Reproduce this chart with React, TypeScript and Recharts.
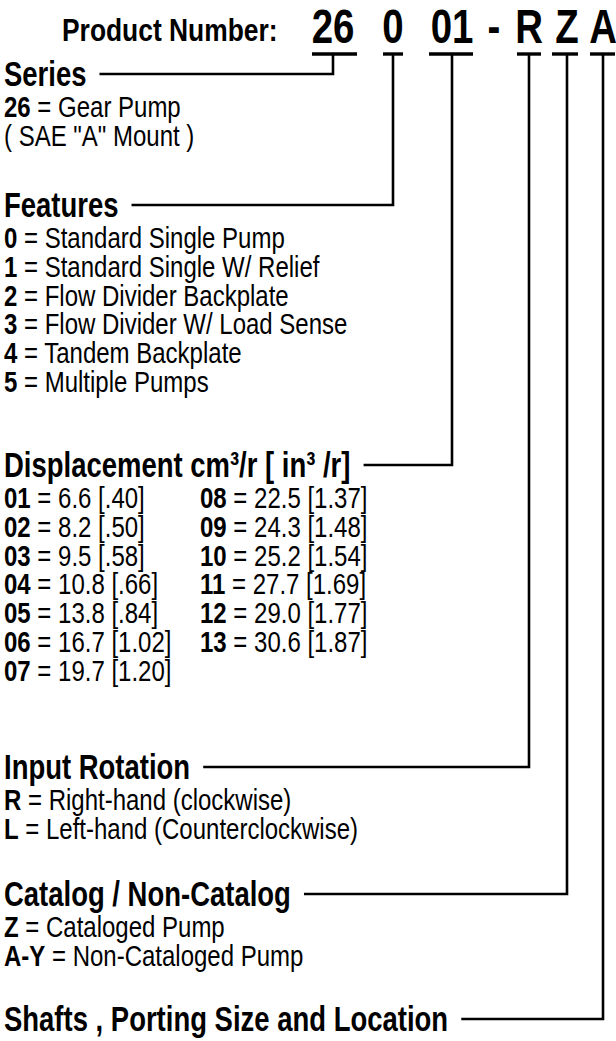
import React from 'react';
import { ComposedChart, XAxis, YAxis, Scatter, Line } from 'recharts';

// ---------------- data ----------------
const productLabel = 'Product Number:';
const codeParts = ['26', '0', '01', '-', 'R', 'Z', 'A'];
const sectionTitles = [
  'Series',
  'Features',
  'Displacement cm³/r [ in³ /r]',
  'Input Rotation',
  'Catalog / Non-Catalog',
  'Shafts , Porting Size and Location',
];
const seriesCodes = ['26'];
const seriesDesc = ['Gear Pump'];
const seriesNote = ['( SAE "A" Mount )'];
const featureCodes = ['0', '1', '2', '3', '4', '5'];
const featureDesc = [
  'Standard Single Pump',
  'Standard Single W/ Relief',
  'Flow Divider Backplate',
  'Flow Divider W/ Load Sense',
  'Tandem Backplate',
  'Multiple Pumps',
];
const dispCodes = ['01', '02', '03', '04', '05', '06', '07', '08', '09', '10', '11', '12', '13'];
const dispCm = ['6.6', '8.2', '9.5', '10.8', '13.8', '16.7', '19.7', '22.5', '24.3', '25.2', '27.7', '29.0', '30.6'];
const dispIn = ['.40', '.50', '.58', '.66', '.84', '1.02', '1.20', '1.37', '1.48', '1.54', '1.69', '1.77', '1.87'];
const rotationCodes = ['R', 'L'];
const rotationDesc = ['Right-hand (clockwise)', 'Left-hand (Counterclockwise)'];
const catalogCodes = ['Z', 'A-Y'];
const catalogDesc = ['Cataloged Pump', 'Non-Cataloged Pump'];

// ---------------- layout ----------------
const W = 616;
const H = 1041;
const FONT = '"Liberation Sans", Arial, Helvetica, sans-serif';

const STYLES: Record<string, { size: number; sx: number; weight: string }> = {
  product: { size: 32, sx: 0.825, weight: 'bold' },
  digit: { size: 48, sx: 0.8, weight: 'bold' },
  title: { size: 35, sx: 0.785, weight: 'bold' },
  row: { size: 30, sx: 0.8, weight: 'normal' },
};

// Arial-bold advance widths (per 1000 em) for estimating title length
const BOLD_W: Record<string, number> = {
  ' ': 278, '/': 278, ',': 278, '[': 333, ']': 333, '³': 333, '-': 333,
  S: 667, e: 556, r: 389, i: 278, s: 556, F: 611, a: 556, t: 333, u: 611, D: 722,
  p: 611, l: 278, c: 556, m: 889, n: 611, I: 278, R: 722, o: 611, C: 722, g: 611,
  N: 722, h: 611, f: 333, P: 667, z: 500, L: 611, d: 611,
};
const titleWidth = (s: string) => {
  const st = STYLES.title;
  let u = 0;
  for (const ch of s) u += BOLD_W[ch] ?? 556;
  return (u / 1000) * st.size * st.sx;
};

const LEFT = 4;
const HEADER_BASE = 43;
const UNDER_Y = 54;
const codeCenters = [333, 393, 452, 494, 529, 567, 603];
const underSpans: ([number, number] | null)[] = [[312, 357], [383, 403], [429, 473], null, [517, 541], [552, 578], [590, 615]];
// index of code part each section connects to
const sectionTarget = [0, 1, 2, 4, 5, 6];
const titleBase = [86, 217, 477, 779, 906, 1031];
const ROW = 28.8;
const DISP_COL2 = 200;

type Item = { x: number; y: number; kind: string; text?: string; code?: string; desc?: string; anchor?: string };

const items: Item[] = [];
items.push({ x: 62, y: HEADER_BASE - 2, kind: 'product', text: productLabel });
codeParts.forEach((c, i) => items.push({ x: codeCenters[i], y: HEADER_BASE, kind: 'digit', text: c, anchor: 'middle' }));
sectionTitles.forEach((t, i) => items.push({ x: LEFT, y: titleBase[i], kind: 'title', text: t }));

const firstRow = (i: number) => titleBase[i] + 31;
seriesCodes.forEach((c, i) => items.push({ x: LEFT, y: firstRow(0) + i * ROW, kind: 'row', code: c, desc: seriesDesc[i] }));
seriesNote.forEach((t, i) => items.push({ x: LEFT, y: firstRow(0) + (seriesCodes.length + i) * ROW, kind: 'row', text: t }));
featureCodes.forEach((c, i) => items.push({ x: LEFT, y: firstRow(1) + i * ROW, kind: 'row', code: c, desc: featureDesc[i] }));
dispCodes.forEach((c, i) => {
  const col = i < 7 ? 0 : 1;
  const r = i < 7 ? i : i - 7;
  items.push({ x: col === 0 ? LEFT : DISP_COL2, y: firstRow(2) + r * ROW, kind: 'row', code: c, desc: `${dispCm[i]} [${dispIn[i]}]` });
});
rotationCodes.forEach((c, i) => items.push({ x: LEFT, y: firstRow(3) + i * ROW, kind: 'row', code: c, desc: rotationDesc[i] }));
catalogCodes.forEach((c, i) => items.push({ x: LEFT, y: firstRow(4) + i * ROW, kind: 'row', code: c, desc: catalogDesc[i] }));

// connectors: heading line -> corner -> up to underline
const connectors = sectionTitles.map((t, i) => {
  const y = titleBase[i] - 12;
  const x0 = LEFT + titleWidth(t) + 13;
  const xc = codeCenters[sectionTarget[i]];
  return [
    { x: x0, y },
    { x: xc, y },
    { x: xc, y: UNDER_Y },
  ];
});
const underlines = underSpans
  .filter((s): s is [number, number] => s !== null)
  .map(([a, b]) => [
    { x: a, y: UNDER_Y },
    { x: b, y: UNDER_Y },
  ]);

const renderText = (props: any) => {
  const { cx, cy, payload } = props;
  const st = STYLES[payload.kind];
  return (
    <text
      transform={`translate(${cx} ${cy}) scale(${st.sx} 1)`}
      x={0}
      y={0}
      fontFamily={FONT}
      fontSize={st.size}
      fontWeight={st.weight}
      textAnchor={payload.anchor ?? 'start'}
      fill="#000"
    >
      {payload.code != null ? (
        <>
          <tspan fontWeight="bold">{payload.code}</tspan>
          <tspan fontWeight="normal">{' = ' + payload.desc}</tspan>
        </>
      ) : (
        payload.text
      )}
    </text>
  );
};

export default function App() {
  return (
    <div style={{ position: 'absolute', left: 0, top: 0, width: W, height: H, background: '#fff' }}>
      <ComposedChart width={W} height={H} margin={{ top: 0, right: 0, bottom: 0, left: 0 }}>
        <XAxis type="number" dataKey="x" domain={[0, W]} hide allowDataOverflow />
        <YAxis type="number" dataKey="y" domain={[0, H]} reversed hide allowDataOverflow />
        {connectors.map((pts, i) => (
          <Line
            key={`c${i}`}
            data={pts}
            dataKey="y"
            type="linear"
            stroke="#000"
            strokeWidth={2.6}
            strokeLinejoin="miter"
            dot={false}
            activeDot={false}
            isAnimationActive={false}
          />
        ))}
        {underlines.map((pts, i) => (
          <Line
            key={`u${i}`}
            data={pts}
            dataKey="y"
            type="linear"
            stroke="#000"
            strokeWidth={3.4}
            dot={false}
            activeDot={false}
            isAnimationActive={false}
          />
        ))}
        <Scatter data={items} dataKey="y" shape={renderText} isAnimationActive={false} />
      </ComposedChart>
    </div>
  );
}
